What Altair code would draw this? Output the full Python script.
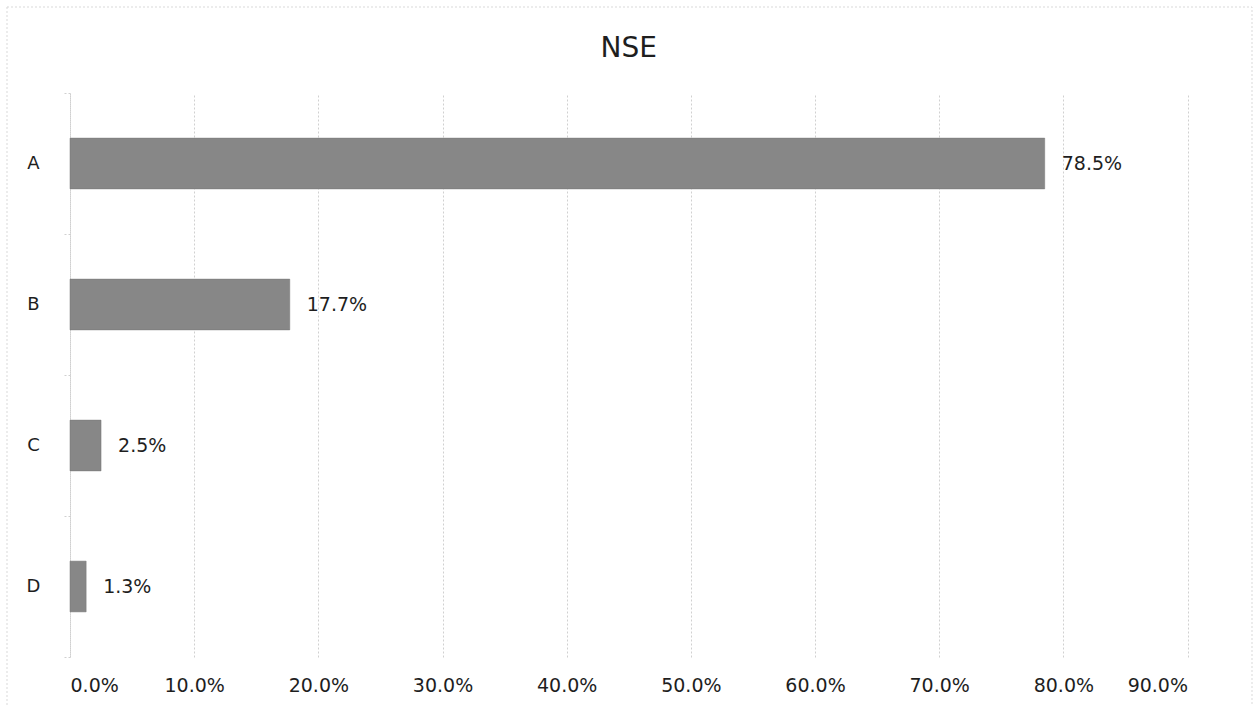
import altair as alt
import pandas as pd

categories = ["A", "B", "C", "D"]
values = [78.5, 17.7, 2.5, 1.3]
labels = ["78.5%", "17.7%", "2.5%", "1.3%"]
x_ticks = [0, 10, 20, 30, 40, 50, 60, 70, 80, 90]
title_text = ["NSE"]

df = pd.DataFrame({"cat": categories, "val": values, "label": labels})
frame_df = pd.DataFrame({"k": [0]})
title_df = pd.DataFrame({"t": title_text})

FONT = "DejaVu Sans"
W = 1117.5
H = 564
GRID = "#d0d0d0"
TEXT = "#1e1e1e"

x_enc = alt.X(
    "val:Q",
    scale=alt.Scale(domain=[0, 90], nice=False, zero=True),
    axis=alt.Axis(
        values=x_ticks,
        labelExpr="format(datum.value, '.1f') + '%'",
        grid=True, gridColor=GRID, gridDash=[2, 2], gridWidth=1,
        ticks=False, domain=False,
        labelFont=FONT, labelFontSize=19, labelColor=TEXT,
        labelPadding=19, title=None,
    ),
)
y_enc = alt.Y(
    "cat:N",
    sort=categories,
    scale=alt.Scale(paddingInner=0, paddingOuter=0),
    axis=alt.Axis(
        title=None, grid=False,
        tickBand="extent", tickSize=7, tickColor=GRID, tickDash=[2, 2],
        domainColor=GRID, domainDash=[2, 2],
        labelAlign="center", labelPadding=30,
        labelFont=FONT, labelFontSize=18, labelColor=TEXT,
    ),
)

bars = alt.Chart(df).mark_bar(
    height={"band": 0.36}, color="#878787", stroke="#777777", strokeWidth=0.5
).encode(x=x_enc, y=y_enc)

text = alt.Chart(df).mark_text(
    align="left", baseline="middle", dx=17, font=FONT, fontSize=19, color=TEXT
).encode(x="val:Q", y=alt.Y("cat:N", sort=categories), text="label:N")

border = alt.Chart(frame_df).mark_rect(
    filled=False, stroke="#d9d9d9", strokeDash=[2, 2], strokeWidth=1
).encode(
    x=alt.value(-63), x2=alt.value(1182), y=alt.value(-86), y2=alt.value(640)
)

title = alt.Chart(title_df).mark_text(
    align="center", baseline="alphabetic", font=FONT, fontSize=28, color=TEXT
).encode(x=alt.value(W / 2), y=alt.value(-36), text="t:N")

chart = alt.layer(border, bars, text, title).properties(
    width=W,
    height=H,
    padding={"left": 70, "top": 93, "right": 67.5, "bottom": 49},
    autosize=alt.AutoSizeParams(type="none"),
).configure_view(stroke=None)

chart.save("out.html", embed_options={"renderer": "svg", "actions": False})
